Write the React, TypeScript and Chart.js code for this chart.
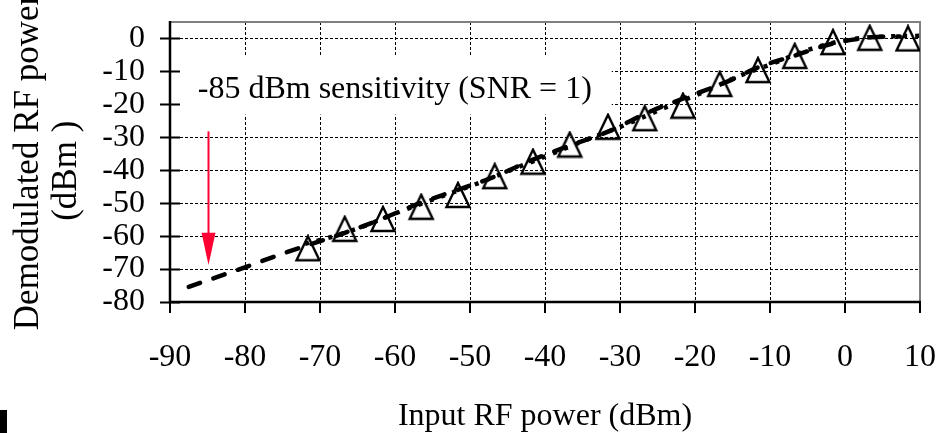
import React, { useEffect, useRef } from "react";
import { Chart, registerables } from "chart.js";

Chart.register(...registerables);

// ---- data ----
const measuredX = [-71.6, -66.7, -61.6, -56.5, -51.6, -46.7, -41.6, -36.7, -31.6, -26.7, -21.6, -16.7, -11.6, -6.7, -1.6, 3.3, 8.4];
const measuredY = [-63.7, -57.8, -54.8, -51.1, -47.5, -41.8, -37.4, -32.2, -26.8, -24.2, -20.4, -13.8, -9.6, -5.3, -1.1, 0.2, 0.0];

const dottedX = [-72, -69.3, -64.4, -60.3, -53.6, -48.4, -44.4, -39.7, -34.4, -29.6, -24, -18.7, -14, -9.6, -4.7, 0.7, 5.6, 10];
const dottedY = [-62.3, -60.8, -57.2, -53.4, -47.8, -43.5, -39.8, -35.6, -30.7, -26.5, -21, -16.1, -11.3, -7.6, -3.3, -0.3, 0.6, 0.8];

const dashedX = [-87.5, -80.3, -74.7, -71, -66.7, -62, -56.7, -51.7, -47, -41.6, -36.7, -31.6, -26.3, -21.3, -15.7, -11.6, -6.7, -1.6, 3.3, 7.3];
const dashedY = [-75.4, -69.7, -65.1, -62.3, -59, -55, -50, -46, -42.2, -36.8, -32.5, -28.3, -22.5, -18, -13.1, -8.8, -5.2, -1.5, 0.3, 0.6];

const xTicks = [-90, -80, -70, -60, -50, -40, -30, -20, -10, 0, 10];
const yTicks = [-80, -70, -60, -50, -40, -30, -20, -10, 0];
const X_MIN = -90, X_MAX = 10, Y_MIN = -80, Y_MAX = 5;

const annotationText = "-85 dBm sensitivity (SNR = 1)";
const annotationAt = { x: -86.3, y: -18 };
const annotationBox = { x1: -88.7, x2: -31.1, y1: -5.5, y2: -23.1 };
const arrowAt = { x: -85, yStart: -28.2, yHeadBase: -59, yTip: -68.8 };

const xTitle = "Input RF power (dBm)";
const yTitle = ["Demodulated RF power", "(dBm )  "];

const SERIF = "'Liberation Serif', 'Times New Roman', Times, serif";

function makeTriangle(): HTMLCanvasElement {
  const c = document.createElement("canvas");
  c.width = 28;
  c.height = 28;
  const g = c.getContext("2d")!;
  g.strokeStyle = "#000";
  g.lineWidth = 2.4;
  g.lineJoin = "miter";
  g.beginPath();
  g.moveTo(14, 2);
  g.lineTo(2.5, 26);
  g.lineTo(25.5, 26);
  g.closePath();
  g.stroke();
  return c;
}

const decorPlugin = {
  id: "decor",
  beforeDatasetsDraw(chart: any) {
    const { ctx, chartArea: a, scales } = chart;
    const x = scales.x, y = scales.y;
    ctx.save();
    const bx1 = x.getPixelForValue(annotationBox.x1);
    const bx2 = x.getPixelForValue(annotationBox.x2);
    const by1 = y.getPixelForValue(annotationBox.y1);
    const by2 = y.getPixelForValue(annotationBox.y2);
    ctx.fillStyle = "#fff";
    ctx.fillRect(bx1, by1, bx2 - bx1, by2 - by1);
    ctx.strokeStyle = "#808080";
    ctx.lineWidth = 2;
    ctx.beginPath();
    ctx.moveTo(a.left, a.top);
    ctx.lineTo(a.right, a.top);
    ctx.lineTo(a.right, a.bottom);
    ctx.stroke();
    ctx.strokeStyle = "#000";
    ctx.lineWidth = 2.5;
    ctx.beginPath();
    ctx.moveTo(a.left, a.top - 1);
    ctx.lineTo(a.left, a.bottom);
    ctx.lineTo(a.right + 1, a.bottom);
    ctx.stroke();
    ctx.lineWidth = 2;
    ctx.beginPath();
    for (const t of y.ticks) {
      const py = Math.round(y.getPixelForValue(t.value)) + 0.5;
      ctx.moveTo(a.left - 10, py);
      ctx.lineTo(a.left + 10, py);
    }
    for (const t of x.ticks) {
      const px = Math.round(x.getPixelForValue(t.value));
      ctx.moveTo(px, a.bottom);
      ctx.lineTo(px, a.bottom + 11);
    }
    ctx.stroke();
    ctx.restore();
  },
  afterDatasetsDraw(chart: any) {
    const { ctx, scales } = chart;
    const x = scales.x, y = scales.y;
    ctx.save();
    ctx.fillStyle = "#000";
    ctx.font = `32px ${SERIF}`;
    ctx.textBaseline = "alphabetic";
    ctx.textAlign = "left";
    ctx.fillText(annotationText, x.getPixelForValue(annotationAt.x), y.getPixelForValue(annotationAt.y));
    const ax = Math.round(x.getPixelForValue(arrowAt.x)) + 0.5;
    const y0 = y.getPixelForValue(arrowAt.yStart);
    const yb = y.getPixelForValue(arrowAt.yHeadBase);
    const yt = y.getPixelForValue(arrowAt.yTip);
    ctx.strokeStyle = "#ff0033";
    ctx.fillStyle = "#ff0033";
    ctx.lineWidth = 2;
    ctx.beginPath();
    ctx.moveTo(ax, y0);
    ctx.lineTo(ax, yb + 1);
    ctx.stroke();
    ctx.beginPath();
    ctx.moveTo(ax - 7, yb);
    ctx.lineTo(ax + 7, yb);
    ctx.lineTo(ax, yt);
    ctx.closePath();
    ctx.fill();
    ctx.restore();
  },
};

export default function App() {
  const ref = useRef<HTMLCanvasElement | null>(null);

  useEffect(() => {
    if (!ref.current) return;
    const tri = makeTriangle();
    const toPts = (xs: number[], ys: number[]) => xs.map((v, i) => ({ x: v, y: ys[i] }));
    const chart = new Chart(ref.current, {
      type: "scatter",
      data: {
        datasets: [
          {
            label: "measured",
            data: toPts(measuredX, measuredY),
            pointStyle: tri as any,
            pointRadius: 12,
            showLine: false,
            order: 0,
          },
          {
            label: "fit dotted",
            data: toPts(dottedX, dottedY),
            showLine: true,
            pointRadius: 0,
            borderColor: "#000",
            borderWidth: 4.5,
            borderDash: [4, 8],
            borderCapStyle: "butt",
            cubicInterpolationMode: "monotone",
            order: 1,
          },
          {
            label: "fit dashed",
            data: toPts(dashedX, dashedY),
            showLine: true,
            pointRadius: 0,
            borderColor: "#000",
            borderWidth: 4.5,
            borderDash: [12, 14],
            borderCapStyle: "round",
            cubicInterpolationMode: "monotone",
            order: 2,
          },
        ],
      },
      options: {
        animation: false,
        responsive: false,
        devicePixelRatio: 1,
        color: "#000",
        layout: { padding: { top: 22, right: 31, left: 0, bottom: 0 } },
        plugins: { legend: { display: false }, tooltip: { enabled: false } },
        scales: {
          x: {
            type: "linear",
            min: X_MIN,
            max: X_MAX,
            afterBuildTicks: (s: any) => { s.ticks = xTicks.map((v) => ({ value: v })); },
            afterFit: (s: any) => {
              s.height = 131;
              s.paddingLeft = 0;
              s.paddingRight = 0;
            },
            ticks: {
              autoSkip: false,
              color: "#000",
              padding: 36,
              maxRotation: 0,
              font: { family: SERIF, size: 32 },
            },
            grid: { color: "#000", lineWidth: 1, drawTicks: false },
            border: { display: false, dash: [3, 2] },
            title: {
              display: true,
              text: xTitle,
              color: "#000",
              font: { family: SERIF, size: 32, lineHeight: 1 },
              padding: { top: 0, bottom: 0 },
            },
          },
          y: {
            type: "linear",
            min: Y_MIN,
            max: Y_MAX,
            afterBuildTicks: (s: any) => { s.ticks = yTicks.map((v) => ({ value: v })); },
            afterFit: (s: any) => {
              s.width = 170;
              s.paddingTop = 0;
              s.paddingBottom = 0;
            },
            ticks: {
              autoSkip: false,
              color: "#000",
              padding: 25,
              font: { family: SERIF, size: 32 },
            },
            grid: { color: "#000", lineWidth: 1, drawTicks: false },
            border: { display: false, dash: [3, 2] },
            title: {
              display: true,
              text: yTitle,
              color: "#000",
              font: { family: SERIF, size: 35, lineHeight: 1.086 },
              padding: { top: 10, bottom: 0 },
            },
          },
        },
      },
      plugins: [decorPlugin],
    } as any);
    return () => chart.destroy();
  }, []);

  return (
    <div style={{ position: "fixed", left: 0, top: 0, width: 951, height: 433, background: "#fff" }}>
      <canvas ref={ref} width={951} height={433} style={{ width: 951, height: 433, display: "block" }} />
      <div style={{ position: "absolute", left: 0, top: 410, width: 7, height: 23, background: "#000" }} />
    </div>
  );
}
